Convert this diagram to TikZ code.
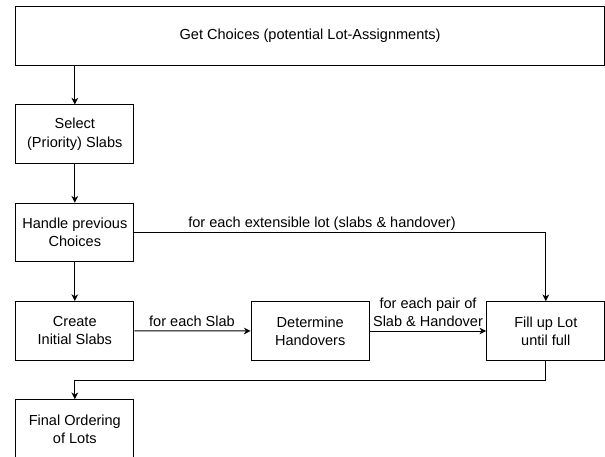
\documentclass[tikz,border=0pt]{standalone}
\usepackage{fontspec}
\setmainfont{Liberation Sans}
\usetikzlibrary{arrows.meta}
\tikzset{
  flow style/.style={
    >={Stealth[length=5pt, width=5pt, inset=1.5pt]}, % arrow tip style
    line width=0.75pt,                               % default line thickness
    font=\fontsize{10.9}{13.6}\selectfont,
  },
  proc box/.style={
    draw=black, line width=0.75pt, align=center, inner sep=0pt,
    minimum width=88.7pt, minimum height=44pt
  },
  edge text/.style={align=center, inner sep=0pt}
}

\begin{document}
\begin{tikzpicture}[x=0.75pt, y=-0.75pt, flow style]
    \useasboundingbox (0,0) rectangle (605,456);

    % Top box spanning the whole width
    \node[proc box, minimum width=441.6pt] (choices) at (310.1,36) {Get Choices (potential Lot-Assignments)};

    % Left column of steps
    \node[proc box] (select) at (74.8,134.3) {Select\\(Priority) Slabs};
    \node[proc box] (handle) at (74.8,232.5) {Handle previous\\Choices};
    \node[proc box] (create) at (74.8,330.8) {Create\\Initial Slabs};
    \node[proc box] (final) at (74.8,429) {Final Ordering\\of Lots};

    % Row of steps
    \node[proc box] (determine) at (310.2,331) {Determine\\Handovers};
    \node[proc box] (fillup) at (545.8,331) {Fill up Lot\\until full};

    % Edge labels
    \node[edge text] (lblext) at (322,224) {for each extensible lot (slabs \& handover)};
    \node[edge text] (lblslab) at (192,321.5) {for each Slab};
    \node[edge text] (lblpair) at (428,312) {for each pair of\\Slab \& Handover};

    % Arrows down the left column
    \draw[->] (choices.south -| select.north) -- (select.north);
    \draw[->] (select) -- (handle);
    \draw[->] (handle) -- (create);

    % Arrows along the row
    \draw[->] (handle.east) -| (fillup.north);
    \draw[->] (create) -- (determine);
    \draw[->] (determine) -- (fillup);

    % Back to the left column
    \draw[->] (fillup.south) -- ++(0,19.3) -| (final.north);
\end{tikzpicture}
\end{document}
